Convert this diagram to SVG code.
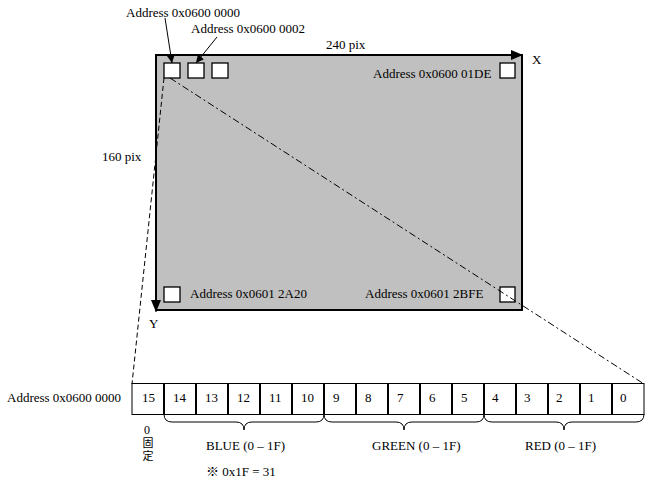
<svg xmlns="http://www.w3.org/2000/svg" width="654" height="480" viewBox="0 0 654 480">
<defs>
<style>
text{font-family:"Liberation Serif","Times New Roman",serif;font-size:13px;fill:#000}
.cjk{font-family:"Liberation Serif","Noto Sans CJK JP",serif;font-size:11px}
.sq{fill:#fff;stroke:#000;stroke-width:1.3}
.cell{fill:#fff;stroke:#000;stroke-width:1}
.sep{stroke:#000;stroke-width:2}
.brace{fill:none;stroke:#000;stroke-width:1}
.ln{stroke:#000;stroke-width:1;fill:none}
</style>
<marker id="ah" viewBox="0 0 10 10" refX="10" refY="5" markerWidth="8" markerHeight="8" markerUnits="userSpaceOnUse" orient="auto"><path d="M0,0 L10,5 L0,10 z" fill="#000"/></marker>
<marker id="big" viewBox="0 0 12 10" refX="12" refY="5" markerWidth="12" markerHeight="10" markerUnits="userSpaceOnUse" orient="auto"><path d="M0,0 L12,5 L0,10 z" fill="#000"/></marker>
</defs>
<rect width="654" height="480" fill="#fff"/>
<g id="screen">
<rect x="156" y="55" width="366" height="255" fill="#c0c0c0" stroke="#000" stroke-width="2"/>
</g>
<g id="pixels">
<g id="px-0000"><rect class="sq" x="164" y="63" width="16" height="15"/></g>
<g id="px-0002"><rect class="sq" x="188" y="63" width="16" height="15"/></g>
<g id="px-0004"><rect class="sq" x="212" y="63" width="16" height="15"/></g>
<g id="px-01DE"><rect class="sq" x="500" y="63" width="15" height="15"/><text x="373" y="78">Address 0x0600 01DE</text></g>
<g id="px-2A20"><rect class="sq" x="164" y="287" width="16" height="15"/><text x="190" y="298">Address 0x0601 2A20</text></g>
<g id="px-2BFE"><rect class="sq" x="500" y="287" width="15" height="15"/><text x="365" y="298">Address 0x0601 2BFE</text></g>
</g>
<g id="labels">
<text x="126" y="17">Address 0x0600 0000</text>
<text x="191" y="33">Address 0x0600 0002</text>
<text x="326" y="49">240 pix</text>
<text x="532" y="64">X</text>
<text x="102" y="161">160 pix</text>
<text x="149" y="328">Y</text>
</g>
<g id="connectors">
<line class="ln" x1="156" y1="55" x2="523" y2="55" stroke-width="2" marker-end="url(#big)"/>
<line class="ln" x1="156" y1="55" x2="156" y2="312" stroke-width="2" marker-end="url(#big)"/>
<line class="ln" x1="165" y1="18" x2="172" y2="63" marker-end="url(#ah)"/>
<line class="ln" x1="217" y1="37" x2="196" y2="63" marker-end="url(#ah)"/>
<line class="ln" x1="164" y1="78" x2="132" y2="384" stroke-dasharray="5,3"/>
<line class="ln" x1="170" y1="78" x2="644" y2="384" stroke-dasharray="7,3,2,3"/>
</g>
<g id="register">
<text x="7" y="402">Address 0x0600 0000</text>
<rect class="cell" x="132" y="383.5" width="512" height="31"/>
<g class="sep">
<line x1="164" y1="383" x2="164" y2="415"/><line x1="196" y1="383" x2="196" y2="415"/><line x1="228" y1="383" x2="228" y2="415"/><line x1="260" y1="383" x2="260" y2="415"/><line x1="292" y1="383" x2="292" y2="415"/><line x1="324" y1="383" x2="324" y2="415"/><line x1="356" y1="383" x2="356" y2="415"/><line x1="388" y1="383" x2="388" y2="415"/><line x1="420" y1="383" x2="420" y2="415"/><line x1="452" y1="383" x2="452" y2="415"/><line x1="484" y1="383" x2="484" y2="415"/><line x1="516" y1="383" x2="516" y2="415"/><line x1="548" y1="383" x2="548" y2="415"/><line x1="580" y1="383" x2="580" y2="415"/><line x1="612" y1="383" x2="612" y2="415"/>
</g>
<text x="142" y="402">15</text><text x="173" y="402">14</text><text x="205" y="402">13</text><text x="237" y="402">12</text><text x="269" y="402">11</text><text x="301" y="402">10</text>
<text x="333" y="402">9</text><text x="365" y="402">8</text><text x="397" y="402">7</text><text x="429" y="402">6</text><text x="461" y="402">5</text>
<text x="492" y="402">4</text><text x="524" y="402">3</text><text x="556" y="402">2</text><text x="588" y="402">1</text><text x="620" y="402">0</text>
</g>
<g id="fields">
<path class="brace" d="M164,414 Q164,422 172,422 L236,422 Q244,422 244,430 Q244,422 252,422 L316,422 Q324,422 324,414"/>
<path class="brace" d="M324,414 Q324,422 332,422 L396,422 Q404,422 404,430 Q404,422 412,422 L476,422 Q484,422 484,414"/>
<path class="brace" d="M484,414 Q484,422 492,422 L556,422 Q564,422 564,430 Q564,422 572,422 L636,422 Q644,422 644,414"/>
<text x="206" y="450">BLUE (0 – 1F)</text>
<text x="372" y="450">GREEN (0 – 1F)</text>
<text x="525" y="450">RED (0 – 1F)</text>
<text x="147" y="434" text-anchor="middle" style="font-size:12px">0</text>
<text class="cjk" x="148" y="447" text-anchor="middle">固</text>
<text class="cjk" x="148" y="460" text-anchor="middle">定</text>
<text class="cjk" x="206" y="476" style="font-size:13px">※ 0x1F = 31</text>
</g>
</svg>
